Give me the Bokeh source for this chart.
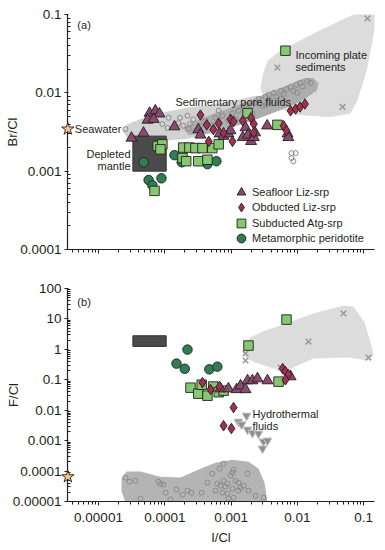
from bokeh.plotting import figure
from bokeh.models import FixedTicker, CustomJSTickFormatter, Legend, LegendItem
from bokeh.layouts import column
from bokeh.core.properties import value
from bokeh.embed import file_html
from bokeh.resources import INLINE

FONT = "Liberation Sans"
INK = "#231f20"
C_TRI = "#8a4a70"
C_DIA = "#a2304f"
C_SQ = "#86c870"
C_CIR = "#2f7d50"

# ---------------- panel (a): Br/Cl vs I/Cl ----------------
a_tri_x = [3.15e-5, 4.77e-5, 5.9e-5, 7.2e-5, 8.3e-5, 5.5e-5, 6.8e-5, 1.4e-4, 3.2e-4, 3.45e-4, 6.7e-4, 7.7e-4,
           9.1e-4, 9.8e-4, 1.5e-3, 1.65e-3, 1.8e-3, 2.0e-3, 2.2e-3, 2.3e-3, 3.5e-3, 7.1e-3, 7.3e-3]
a_tri_y = [0.00265, 0.00307, 0.0055, 0.0059, 0.0054, 0.0045, 0.0046, 0.0037, 0.0034, 0.0029, 0.0030, 0.0028,
           0.0030, 0.0033, 0.0027, 0.0036, 0.0029, 0.0024, 0.0027, 0.0031, 0.0038, 0.0030, 0.0027]
a_dia_x = [3.45e-4, 4.3e-4, 5.4e-4, 6.5e-4, 4.6e-4, 7.7e-4, 9.8e-4, 1.09e-3, 1.05e-3, 1.5e-3, 2.0e-3, 2.2e-3,
           2.2e-3, 6.2e-3, 6.85e-3, 7.9e-3, 9.4e-3, 1.1e-2, 1.3e-2]
a_dia_y = [0.0052, 0.0039, 0.0034, 0.0041, 0.0024, 0.0031, 0.0046, 0.0043, 0.0024, 0.0044, 0.0048, 0.0040,
           0.0031, 0.0038, 0.0033, 0.0059, 0.0062, 0.0066, 0.0072]
a_sq_x = [6.6e-3, 1.77e-3, 5.0e-3, 7.8e-5, 9.2e-5, 8.6e-5, 7.0e-5, 1.9e-4, 2.35e-4, 2.9e-4, 3.7e-4, 5.2e-4,
          6.5e-4, 1.85e-4, 2.1e-4, 3.2e-4, 4.4e-4]
a_sq_y = [0.0345, 0.0055, 0.0039, 0.0021, 0.0022, 0.0019, 0.00056, 0.0020, 0.0020, 0.00197, 0.00197, 0.00197,
          0.0022, 0.00147, 0.00134, 0.00134, 0.0014]
a_cir_x = [4.8e-5, 5.7e-5, 6.5e-5, 8.9e-5, 1.4e-4, 1.8e-4, 4.4e-4, 6.0e-4]
a_cir_y = [0.0013, 0.00077, 0.00066, 0.00081, 0.0016, 0.0013, 0.00123, 0.00134]
a_pore_x = [2.55e-5, 9.2e-5, 1.1e-4, 1.14e-4, 1.6e-4, 1.7e-4, 1.9e-4, 2.2e-4, 2.3e-4, 2.4e-4, 2.7e-4, 3.45e-4,
            4.1e-4, 5.2e-4, 5.8e-4, 7.4e-4, 9.1e-4, 1.05e-3, 1.3e-3, 1.65e-3, 2.0e-3, 2.3e-3, 2.6e-3, 3.0e-3,
            3.3e-3, 3.7e-3, 3.9e-3, 4.4e-3, 4.85e-3, 5.6e-3, 5.6e-3, 6.2e-3, 6.85e-3, 7.9e-3, 8.7e-3, 9.7e-3,
            1.0e-2, 1.1e-2, 1.2e-2, 1.4e-2, 1.6e-2, 3.3e-3, 1.65e-3, 6.5e-4, 1.16e-3, 2.1e-3,
            8.15e-3, 9.4e-3, 8.15e-3, 8.7e-3]
a_pore_y = [0.00345, 0.0040, 0.00356, 0.0048, 0.0041, 0.0048, 0.0038, 0.0051, 0.00345, 0.0040, 0.0046, 0.0038,
            0.0044, 0.0039, 0.0048, 0.0051, 0.0044, 0.0055, 0.0059, 0.0055, 0.0068, 0.0074, 0.0084, 0.0068,
            0.0089, 0.0095, 0.0079, 0.010, 0.0089, 0.0106, 0.0084, 0.0097, 0.0112, 0.0119, 0.0106, 0.0127,
            0.0100, 0.0134, 0.0120, 0.0142, 0.0134, 0.0070, 0.0070, 0.0059, 0.0046, 0.0054,
            0.0017, 0.0017, 0.00147, 0.00134]
a_sed_x = [0.114, 5.0e-3, 4.8e-2]
a_sed_y = [0.089, 0.021, 0.0066]
# outlines of the shaded fields in (a)
a_plate_x = [2.77e-3, 2.98e-3, 3.54e-3, 5.56e-3, 1.75e-2, 4.47e-2, 8.95e-2, 0.136, 0.156, 0.136, 0.114, 8.05e-2,
             6.3e-2, 3.16e-2, 1.0e-2, 5.6e-3, 3.3e-3]
a_plate_y = [0.0112, 0.0165, 0.0257, 0.0345, 0.057, 0.0838, 0.109, 0.116, 0.0889, 0.0464, 0.0209, 0.0079,
             0.0054, 0.0049, 0.0052, 0.0062, 0.0079]
a_pore_lo_x = [2.3e-5, 2.65e-5, 4.3e-5, 8.6e-5, 2.05e-4, 4.9e-4, 1.16e-3, 2.3e-3, 3.3e-3, 2.3e-3, 1.16e-3,
               4.9e-4, 2.05e-4, 8.6e-5, 4.3e-5, 2.7e-5]
a_pore_lo_y = [0.00326, 0.0039, 0.00464, 0.00554, 0.0064, 0.0070, 0.0079, 0.0092, 0.0079, 0.0051, 0.0038,
               0.0030, 0.00257, 0.00243, 0.0025, 0.0027]
a_pore_hi_x = [1.85e-4, 2.9e-4, 5.8e-4, 1.3e-3, 2.6e-3, 4.7e-3, 7.9e-3, 1.2e-2, 1.7e-2, 2.1e-2, 1.95e-2, 1.3e-2,
               7.9e-3, 4.2e-3, 2.1e-3, 9.8e-4, 4.1e-4, 2.3e-4]
a_pore_hi_y = [0.00356, 0.00438, 0.00554, 0.0070, 0.0089, 0.0109, 0.013, 0.0151, 0.0156, 0.0134, 0.0106, 0.0084,
               0.0068, 0.0055, 0.0044, 0.0036, 0.0030, 0.0029]

# ---------------- panel (b): F/Cl vs I/Cl ----------------
b_tri_x = [6.9e-4, 9.1e-4, 1.21e-3, 1.39e-3, 1.65e-3, 1.77e-3, 2.1e-3, 2.5e-3, 3.54e-3, 7.9e-3]
b_tri_y = [0.051, 0.051, 0.048, 0.064, 0.048, 0.094, 0.094, 0.109, 0.094, 0.127]
b_dia_x = [3.7e-4, 4.9e-4, 6.7e-4, 1.09e-3, 7.7e-4, 1.01e-3, 6.0e-3, 6.6e-3, 7.3e-3, 6.6e-3]
b_dia_y = [0.081, 0.048, 0.060, 0.0122, 0.0031, 0.0025, 0.233, 0.186, 0.148, 0.10]
b_sq_x = [6.85e-3, 1.83e-3, 5.2e-3, 2.44e-4, 3.2e-4, 3.6e-4, 4.4e-4, 5.4e-4, 6.5e-4, 7.7e-4]
b_sq_y = [9.5, 1.33, 0.087, 0.055, 0.035, 0.069, 0.030, 0.060, 0.039, 0.044]
b_cir_x = [2.2e-4, 1.5e-4, 2.0e-4, 4.7e-4, 6.2e-4]
b_cir_y = [0.98, 0.34, 0.23, 0.22, 0.27]
b_hyd_x = [1.71e-3, 1.29e-3, 1.44e-3, 1.77e-3, 2.1e-3, 2.59e-3, 3.08e-3, 3.54e-3, 2.98e-3]
b_hyd_y = [0.0066, 0.0042, 0.0034, 0.0023, 0.0018, 0.0017, 0.00093, 0.0010, 0.00055]
b_sed_x = [4.96e-2, 1.47e-2, 0.118, 1.65e-3, 1.65e-3, 5.6e-3]
b_sed_y = [15.1, 1.81, 0.537, 0.73, 0.43, 0.25]
b_pore_x = [2.55e-5, 2.95e-5, 3.6e-5, 4.3e-5, 8.0e-5, 8.6e-5, 9.5e-5, 1.03e-4, 1.22e-4, 1.5e-4, 1.85e-4, 2.2e-4,
            2.5e-4, 3.6e-4, 4.4e-4, 5.2e-4, 5.8e-4, 6.2e-4, 6.7e-4, 6.9e-4, 7.4e-4, 7.7e-4, 7.7e-4, 8.2e-4,
            8.8e-4, 8.8e-4, 9.1e-4, 9.8e-4, 1.05e-3, 1.05e-3, 1.09e-3, 1.09e-3, 1.16e-3, 1.29e-3, 1.29e-3,
            1.39e-3, 1.54e-3, 1.77e-3, 1.83e-3, 2.33e-3, 3.08e-3]
b_pore_y = [6.1e-5, 4.5e-5, 4.8e-5, 1.24e-5, 4.5e-5, 3.85e-5, 3.6e-5, 1.95e-5, 1.15e-5, 2.45e-5, 1.67e-5, 2.27e-5,
            1.95e-5, 1.95e-5, 4.15e-5, 8.2e-5, 2.27e-5, 3.85e-5, 1.2e-4, 3.3e-5, 1.95e-5, 1.75e-4, 4.8e-5, 3.1e-5,
            3.85e-5, 1.8e-5, 1.24e-5, 7.1e-5, 8.9e-5, 2.64e-5, 1.1e-4, 1.33e-5, 4.8e-5, 4.15e-5, 2.27e-5,
            2.85e-5, 3.3e-5, 8.2e-5, 2.27e-5, 1.55e-5, 1.33e-5]
b_plate_x = [1.5e-3, 1.54e-3, 1.96e-3, 2.98e-3, 5.56e-3, 1.75e-2, 4.96e-2, 7.0e-2, 0.103, 0.131, 0.141, 0.118,
             5.7e-2, 1.75e-2, 9.4e-3, 6.6e-3, 3.9e-3, 2.3e-3, 1.7e-3]
b_plate_y = [0.785, 1.33, 2.44, 3.85, 6.07, 15.1, 27.6, 25.6, 7.6, 1.33, 0.625, 0.428, 0.537, 0.50, 0.272,
             0.186, 0.252, 0.368, 0.50]
b_sw_x = [2.55e-5, 2.22e-5, 2.22e-5, 2.64e-5, 4.3e-5, 8.6e-5, 1.73e-4, 3.45e-4, 5.8e-4, 1.05e-3, 1.83e-3, 2.6e-3,
          3.2e-3, 3.54e-3]
b_sw_y = [9e-6, 2.27e-5, 5.6e-5, 9.6e-5, 9.6e-5, 6.55e-5, 6.1e-5, 1.2e-4, 1.89e-4, 2.37e-4, 2.04e-4, 1.2e-4,
          4.15e-5, 9e-6]

# end members
dm_icl = [3.3e-5, 1.05e-4]
dm_brcl = [0.001, 0.0028]
dm_fcl = [1.25, 2.8]
sw_icl = [3.45e-6]
sw_brcl = [0.00345]
sw_fcl = [6.5e-5]

x_ticks = [1e-5, 1e-4, 1e-3, 1e-2, 1e-1]
a_y_ticks = [1e-4, 1e-3, 1e-2, 1e-1]
b_y_ticks = [1e-5, 1e-4, 1e-3, 1e-2, 1e-1, 1, 10, 100]
legend_labels = ["Seafloor Liz-srp", "Obducted Liz-srp", "Subducted Atg-srp", "Metamorphic peridotite"]


def minors(lo, hi):
    return [k * 10.0 ** e for e in range(lo, hi) for k in range(2, 10)]


fmt = CustomJSTickFormatter(code="""
const e = Math.round(Math.log10(tick));
return e >= 0 ? tick.toFixed(0) : tick.toFixed(-e);
""")
blank = CustomJSTickFormatter(code="return '';")

XR = (3.407e-6, 0.1456)


def base_fig(height, yr, top, bottom):
    p = figure(width=380, height=height, x_axis_type="log", y_axis_type="log",
               x_range=XR, y_range=yr, output_backend="svg", toolbar_location=None,
               min_border_left=67, min_border_right=6, min_border_top=top, min_border_bottom=bottom)
    p.outline_line_color = None
    p.grid.visible = False
    p.background_fill_color = "white"
    for ax in (p.xaxis[0], p.yaxis[0]):
        ax.axis_line_color = INK
        ax.axis_line_width = 1.2
        ax.major_tick_line_color = INK
        ax.minor_tick_line_color = INK
        ax.major_label_text_font = FONT
        ax.major_label_text_font_size = "13.5px"
        ax.major_label_text_color = INK
        ax.axis_label_text_font = FONT
        ax.axis_label_text_font_style = "normal"
        ax.axis_label_text_font_size = "13px"
        ax.axis_label_text_color = INK
    p.xaxis.major_tick_out = 4
    p.xaxis.major_tick_in = 0
    p.xaxis.minor_tick_out = 3
    p.xaxis.minor_tick_in = 0
    p.yaxis.major_tick_out = 3
    p.yaxis.major_tick_in = 1
    p.yaxis.minor_tick_out = 0
    p.yaxis.minor_tick_in = 3
    p.yaxis.major_label_standoff = 3
    p.xaxis.ticker = FixedTicker(ticks=x_ticks, minor_ticks=minors(-6, 0))
    return p


def txt(p, x, y, s, align="left"):
    p.text(x=x, y=y, text=[s], text_font=value(FONT), text_font_size=value("11px"),
           text_color=INK, text_align=align, text_baseline="middle")


LW = 0.9

# ---------- figure (a) ----------
pa = base_fig(262, (1e-4, 0.1), 14, 13)
pa.yaxis.ticker = FixedTicker(ticks=a_y_ticks, minor_ticks=minors(-4, -1))
pa.yaxis.formatter = fmt
pa.xaxis.formatter = blank
pa.yaxis.axis_label = "Br/Cl"
pa.yaxis.axis_label_standoff = -3

pa.patch(a_plate_x, a_plate_y, fill_color="#dcdcdc", line_color=None)
pa.patch(a_pore_lo_x, a_pore_lo_y, fill_color="#d2d2d2", line_color=None)
pa.patch(a_pore_hi_x, a_pore_hi_y, fill_color="#adadad", line_color=None)
pa.scatter(a_pore_x, a_pore_y, marker="circle", size=5, fill_color=None, line_color="#8a8a8a", line_width=1)
pa.scatter(a_sed_x, a_sed_y, marker="x", size=8, line_color="#9a9a9a", line_width=1.5)
pa.quad(left=[dm_icl[0]], right=[dm_icl[1]], bottom=[dm_brcl[0]], top=[dm_brcl[1]],
        fill_color="#4b4b4b", line_color="#333333", line_width=1)
r_cir = pa.scatter(a_cir_x, a_cir_y, marker="circle", size=9.5, fill_color=C_CIR, line_color=INK, line_width=LW)
r_sq = pa.scatter(a_sq_x, a_sq_y, marker="square", size=9.5, fill_color=C_SQ, line_color=INK, line_width=LW)
r_tri = pa.scatter(a_tri_x, a_tri_y, marker="triangle", size=11, fill_color=C_TRI, line_color=INK, line_width=LW)
r_dia = pa.scatter(a_dia_x, a_dia_y, marker="diamond", size=10.5, fill_color=C_DIA, line_color=INK,
                   line_width=LW)
sa = pa.scatter(sw_icl, sw_brcl, marker="star", size=13, fill_color="#f6c88a", line_color=INK, line_width=LW)
sa.level = "overlay"

txt(pa, [4.8e-6], [0.0744], "(a)")
txt(pa, [4.4e-6], [0.00345], "Seawater")
txt(pa, [3.04e-5], [0.00165], "Depleted", "right")
txt(pa, [3.04e-5], [0.00116], "mantle", "right")
txt(pa, [1.45e-4], [0.0077], "Sedimentary pore fluids")
txt(pa, [9.36e-3], [0.0303], "Incoming plate")
txt(pa, [9.36e-3], [0.0215], "sediments")

# one single-item legend per row, so that the rows can sit closer than the glyph boxes
for i, (lab, r) in enumerate(zip(legend_labels, [r_tri, r_dia, r_sq, r_cir])):
    lg = Legend(items=[LegendItem(label=lab, renderers=[r])],
                location=(163, 46 - 15.3 * i), glyph_width=22, glyph_height=22, label_height=22,
                label_standoff=0, padding=0, margin=0, border_line_color=None, background_fill_alpha=0,
                label_text_font=FONT, label_text_font_size="11px", label_text_color=INK)
    pa.add_layout(lg)

# ---------- figure (b) ----------
pb = base_fig(288, (1e-5, 100), 26, 49)
pb.yaxis.ticker = FixedTicker(ticks=b_y_ticks, minor_ticks=minors(-5, 2))
pb.yaxis.formatter = fmt
pb.xaxis.formatter = fmt
pb.yaxis.axis_label = "F/Cl"
pb.yaxis.axis_label_standoff = -11
pb.xaxis.axis_label = "I/Cl"
pb.xaxis.major_label_standoff = 7
pb.xaxis.axis_label_standoff = 5

pb.patch(b_plate_x, b_plate_y, fill_color="#dcdcdc", line_color=None)
pb.patch(b_sw_x, b_sw_y, fill_color="#b4b4b4", line_color=None)
pb.scatter(b_pore_x, b_pore_y, marker="circle", size=5, fill_color=None, line_color="#8a8a8a", line_width=1)
pb.scatter(b_sed_x, b_sed_y, marker="x", size=8, line_color="#9a9a9a", line_width=1.5)
pb.quad(left=[dm_icl[0]], right=[dm_icl[1]], bottom=[dm_fcl[0]], top=[dm_fcl[1]],
        fill_color="#4b4b4b", line_color="#333333", line_width=1)
pb.scatter(b_hyd_x, b_hyd_y, marker="inverted_triangle", size=9, fill_color="#8f8f8f", line_color="#c8c8c8",
           line_width=1)
pb.scatter(b_cir_x, b_cir_y, marker="circle", size=9.5, fill_color=C_CIR, line_color=INK, line_width=LW)
pb.scatter(b_sq_x, b_sq_y, marker="square", size=9.5, fill_color=C_SQ, line_color=INK, line_width=LW)
pb.scatter(b_tri_x, b_tri_y, marker="triangle", size=11, fill_color=C_TRI, line_color=INK, line_width=LW)
pb.scatter(b_dia_x, b_dia_y, marker="diamond", size=10.5, fill_color=C_DIA, line_color=INK, line_width=LW)
sb = pb.scatter(sw_icl, sw_fcl, marker="star", size=13, fill_color="#f6c88a", line_color=INK, line_width=LW)
sb.level = "overlay"

txt(pb, [4.8e-6], [35.9], "(b)")
txt(pb, [2.1e-3], [0.0074], "Hydrothermal")
txt(pb, [2.1e-3], [0.0031], "fluids")

layout = column(pa, pb, spacing=0)
open("out.html", "w").write(file_html(layout, INLINE))
